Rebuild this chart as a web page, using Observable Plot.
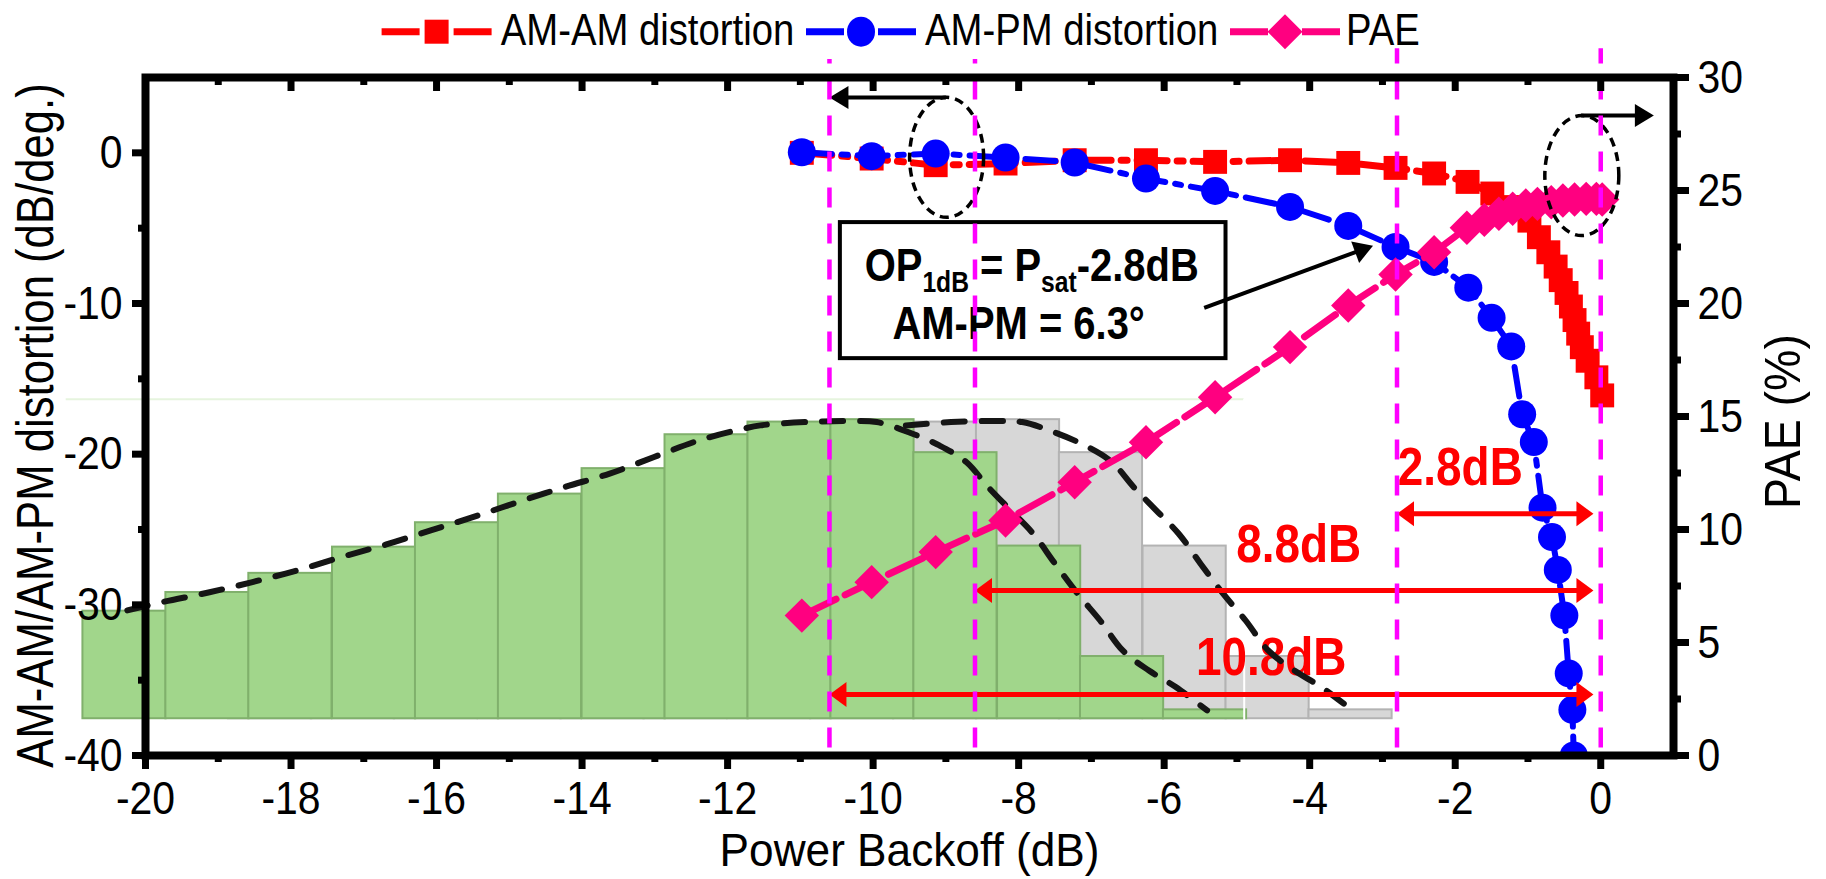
<!DOCTYPE html>
<html lang="en">
<head>
<meta charset="utf-8">
<title>AM-AM / AM-PM distortion and PAE versus power backoff</title>
<script src="https://cdn.jsdelivr.net/npm/d3@7"></script>
<script src="https://cdn.jsdelivr.net/npm/@observablehq/plot@0.6"></script>
<style>
  html, body { margin: 0; padding: 0; background: #fff; }
  #figure { position: relative; width: 1826px; height: 879px; }
  #legend { position: absolute; left: 0; top: 0; z-index: 2; }
</style>
</head>
<body>
<div id="figure"></div>
<script>
// ---------------------------------------------------------------------------
// Measured responses versus power backoff (dB)
// ---------------------------------------------------------------------------
const amamX    = [-10.98, -10.02, -9.14, -8.18, -7.23, -6.25, -5.3, -4.27, -3.47, -2.82, -2.29, -1.83, -1.49, -1.21, -0.98, -0.85, -0.72, -0.62, -0.55, -0.47, -0.41, -0.36, -0.31, -0.26, -0.18, -0.06, 0.02];
const amamDist = [0.0, -0.38, -0.82, -0.71, -0.49, -0.49, -0.6, -0.49, -0.67, -1.0, -1.37, -1.93, -2.7, -3.6, -4.5, -5.6, -6.6, -7.55, -8.45, -9.3, -10.2, -11.1, -12.0, -12.9, -13.8, -14.9, -16.1];

const ampmX    = [-10.98, -10.02, -9.14, -8.18, -7.23, -6.25, -5.3, -4.27, -3.47, -2.82, -2.29, -1.82, -1.5, -1.23, -1.08, -0.92, -0.8, -0.67, -0.59, -0.5, -0.44, -0.39, -0.37];
const ampmDist = [0.04, -0.22, -0.05, -0.31, -0.64, -1.71, -2.53, -3.59, -4.85, -6.25, -7.24, -8.95, -10.95, -12.85, -17.35, -19.2, -23.55, -25.5, -27.68, -30.7, -34.55, -36.97, -40.0];

const paeX     = [-10.98, -10.02, -9.14, -8.18, -7.23, -6.25, -5.3, -4.27, -3.47, -2.82, -2.29, -1.84, -1.6, -1.4, -1.21, -1.03, -0.87, -0.68, -0.52, -0.36, -0.2, -0.06, 0.02];
const paeValue = [6.19, 7.67, 9.0, 10.4, 12.09, 13.86, 15.85, 18.07, 19.91, 21.28, 22.27, 23.35, 23.7, 23.97, 24.19, 24.34, 24.41, 24.48, 24.56, 24.6, 24.63, 24.63, 24.6];

// ---------------------------------------------------------------------------
// Signal power distribution (histogram in left-axis units) and its envelope
// ---------------------------------------------------------------------------
const binStart = [-20.86, -19.72, -18.58, -17.43, -16.29, -15.15, -14.0, -12.86, -11.72, -10.58, -9.44, -8.29, -7.15, -6.01];
const binTop   = [-30.42, -29.18, -27.91, -26.17, -24.55, -22.65, -20.96, -18.71, -17.87, -17.71, -19.9, -26.1, -33.43, -36.97];
const binWidth = 1.143;
const binBase  = -37.56;
const secondSignalShift = 2.0;   // same distribution, 2 dB closer to saturation

const envX = [-20.25, -19.76, -19.15, -18.53, -17.92, -17.31, -16.69, -16.08, -15.47, -14.85, -14.24, -13.62, -13.01, -12.39, -11.78, -11.55, -10.93, -10.32, -9.95, -9.52, -9.09, -8.72, -8.42, -8.11, -7.8, -7.5, -7.19, -6.88, -6.57, -6.21, -5.84, -5.41];
const envY = [-30.37, -29.81, -29.2, -28.49, -27.72, -26.83, -25.99, -25.06, -24.13, -23.13, -22.18, -21.29, -20.19, -19.08, -18.31, -18.09, -17.87, -17.8, -17.87, -18.53, -19.42, -20.52, -22.18, -23.73, -25.28, -27.27, -29.26, -31.04, -33.03, -34.36, -35.46, -37.01];

// ---------------------------------------------------------------------------
// Backoff markers and annotations
// ---------------------------------------------------------------------------
const markerX    = [-10.6, -8.6, -2.8, 0];
const markerTop  = [6.2, 6.2, 6.9, 6.9];
const markerBottom = -39.5;

const spanFrom   = [-10.6, -8.6, -2.8];
const spanTo     = -0.1;
const spanY      = [-35.95, -29.05, -23.96];
const spanText   = ["10.8dB", "8.8dB", "2.8dB"];
const spanTextX  = [-4.53, -4.15, -1.93];
const spanTextY  = [-34.69, -27.17, -22.07];

const pointerX1 = [-9.0, -0.27, -5.45];
const pointerY1 = [3.68, 2.47, -10.29];
const pointerX2 = [-10.6, 0.73, -3.13];
const pointerY2 = [3.68, 2.47, -6.16];

const ringX = [-8.99, -0.26];
const ringY = [-0.30, -1.51];

const boxX = [-10.45, -5.15];
const boxY = [-13.66, -4.63];
const boxLines = ["OP1dB = Psat-2.8dB", "AM-PM = 6.3°"];
const boxLineX = [-7.82, -8.0];
const boxLineY = [-8.53, -12.35];

// Axis ticks
const xMajor = [-20, -18, -16, -14, -12, -10, -8, -6, -4, -2, 0];
const xMinor = [-19, -17, -15, -13, -11, -9, -7, -5, -3, -1];
const leftMajor = [0, -10, -20, -30, -40];
const leftMinor = [-5, -15, -25, -35];
const paeMajor = [0, 5, 10, 15, 20, 25, 30];
const paeMinor = [2.5, 7.5, 12.5, 17.5, 22.5, 27.5];

const seriesNames  = ["AM-AM distortion", "AM-PM distortion", "PAE"];
const seriesColors = ["#ff0000", "#0000ff", "#ff0080"];
const xTitle = "Power Backoff (dB)";
const leftTitle = "AM-AM/AM-PM distortion (dB/deg.)";
const rightTitle = "PAE (%)";

// ---------------------------------------------------------------------------
const FONT = '"Liberation Sans", Arial, sans-serif';
const W = 1826, H = 879;
const M = {top: 77, right: 153, bottom: 124, left: 145};
const xDomain = [-20, 1], yDomain = [-40, 5];
const plotH = H - M.top - M.bottom;
const xPx = (W - M.left - M.right) / (xDomain[1] - xDomain[0]);
const yPx = plotH / (yDomain[1] - yDomain[0]);

// PAE (0–30 %) shares the frame with the left axis (-40…5)
const paeToLeft = (p) => yDomain[0] + p * (yDomain[1] - yDomain[0]) / 30;
const leftToPae = (v) => (v - yDomain[0]) * 30 / (yDomain[1] - yDomain[0]);

const amam = amamX.map((x, i) => ({x, y: amamDist[i]}));
const ampm = ampmX.map((x, i) => ({x, y: ampmDist[i]}));
const pae  = paeX.map((x, i) => ({x, y: paeToLeft(paeValue[i])}));

const bins = binStart.map((x1, i) => ({x1, x2: x1 + binWidth, top: binTop[i]}));
const binsShifted = bins.map((d) => ({x1: d.x1 + secondSignalShift, x2: d.x2 + secondSignalShift, top: d.top}));
const envelope = envX.map((x, i) => ({x, y: envY[i]}));
const envelopeShifted = envelope
  .filter((d) => d.x >= -11.6)
  .map((d) => ({x: d.x + secondSignalShift, y: d.y}));

const markers = markerX.map((x, i) => ({x, top: markerTop[i]}));
const spans = spanFrom.map((x1, i) => ({x1, x2: spanTo, y: spanY[i]}));
const spanLabels = spanText.map((t, i) => ({t, x: spanTextX[i], y: spanTextY[i]}));
const pointers = pointerX1.map((x1, i) => {
  const d = {x1, y1: pointerY1[i], x2: pointerX2[i], y2: pointerY2[i]};
  d.angle = Math.atan2(-(d.y2 - d.y1) * yPx, (d.x2 - d.x1) * xPx) * 180 / Math.PI;
  return d;
});
const rings = ringX.map((x, i) => ({x, y: ringY[i]}));
const boxText = boxLines.map((t, i) => ({t, x: boxLineX[i], y: boxLineY[i]}));

// Filled triangular arrow head, tip at the origin, pointing along angle (degrees, screen space)
function arrowHead(angleDeg, len, half) {
  const a = angleDeg * Math.PI / 180, c = Math.cos(a), s = Math.sin(a);
  const p = [[0, 0], [-len, -half], [-len, half]].map(([u, v]) => [u * c - v * s, u * s + v * c]);
  return {draw(ctx) {
    ctx.moveTo(p[0][0], p[0][1]);
    ctx.lineTo(p[1][0], p[1][1]);
    ctx.lineTo(p[2][0], p[2][1]);
    ctx.closePath();
  }};
}

// Ellipse outline used to circle a group of points
function ellipse(rx, ry) {
  const k = 0.5522847498;
  return {draw(ctx) {
    ctx.moveTo(rx, 0);
    ctx.bezierCurveTo(rx, ry * k, rx * k, ry, 0, ry);
    ctx.bezierCurveTo(-rx * k, ry, -rx, ry * k, -rx, 0);
    ctx.bezierCurveTo(-rx, -ry * k, -rx * k, -ry, 0, -ry);
    ctx.bezierCurveTo(rx * k, -ry, rx, -ry * k, rx, 0);
    ctx.closePath();
  }};
}

const RED = "#ff0000";

const chart = Plot.plot({
  width: W,
  height: H,
  marginTop: M.top,
  marginRight: M.right,
  marginBottom: M.bottom,
  marginLeft: M.left,
  x: {domain: xDomain},
  y: {domain: yDomain},
  style: {fontFamily: FONT, fontSize: "46px", color: "#000", background: "#fff"},
  marks: [
    // power distributions
    Plot.rect(binsShifted, {x1: "x1", x2: "x2", y1: binBase, y2: "top", fill: "#d7d7d7", stroke: "#b3b3b3", strokeWidth: 2}),
    Plot.rect(bins, {x1: "x1", x2: "x2", y1: binBase, y2: "top", fill: "#a1d68b", stroke: "#80b06c", strokeWidth: 2}),
    Plot.ruleY([-16.36], {x1: -21.09, x2: -4.9, stroke: "#e6f4de", strokeWidth: 2}),
    Plot.ruleX([-4.9], {y1: binBase - 0.1, y2: -16.36, stroke: "#ffffff", strokeWidth: 2}),

    // backoff span labels
    Plot.text(spanLabels, {x: "x", y: "y", text: "t", fill: RED, fontWeight: "bold", fontSize: 54, lineAnchor: "bottom"}),

    // envelopes
    Plot.line(envelopeShifted, {x: "x", y: "y", curve: "catmull-rom", stroke: "#151515", strokeWidth: 6, strokeDasharray: "21,17", strokeLinecap: "round"}),
    Plot.line(envelope, {x: "x", y: "y", curve: "catmull-rom", stroke: "#151515", strokeWidth: 6, strokeDasharray: "21,17", strokeLinecap: "round"}),

    // annotation box
    Plot.rect([0], {x1: boxX[0], x2: boxX[1], y1: boxY[0], y2: boxY[1], fill: "#fff", stroke: "#000", strokeWidth: 4}),
    Plot.text(boxText, {x: "x", y: "y", text: "t", fontWeight: "bold", fontSize: 47, lineAnchor: "bottom", fill: "#000"}),

    // AM-AM
    Plot.line(amam, {x: "x", y: "y", stroke: seriesColors[0], strokeWidth: 7, strokeDasharray: "30,10,6,10"}),
    Plot.dot(amam, {x: "x", y: "y", symbol: "square", r: 13.5, fill: seriesColors[0], stroke: "none"}),
    // AM-PM
    Plot.line(ampm, {x: "x", y: "y", stroke: seriesColors[1], strokeWidth: 6, strokeDasharray: "30,10,6,10", clip: true}),
    Plot.dot(ampm, {x: "x", y: "y", symbol: "circle", r: 14, fill: seriesColors[1], stroke: "none", clip: true}),
    // PAE
    Plot.line(pae, {x: "x", y: "y", stroke: seriesColors[2], strokeWidth: 7, strokeDasharray: "38,10"}),
    Plot.dot(pae, {x: "x", y: "y", symbol: "diamond2", r: 15.5, fill: seriesColors[2], stroke: "none"}),

    // double-headed backoff spans
    Plot.arrow(spans, {x1: "x1", x2: "x2", y1: "y", y2: "y", headLength: 0, insetStart: 10, insetEnd: 10, stroke: RED, strokeWidth: 5, strokeLinecap: "butt"}),
    Plot.dot(spans, {x: "x1", y: "y", symbol: arrowHead(180, 17, 12.5), fill: RED, stroke: "none"}),
    Plot.dot(spans, {x: "x2", y: "y", symbol: arrowHead(0, 17, 12.5), fill: RED, stroke: "none"}),

    // black pointers and rings
    Plot.arrow(pointers, {x1: "x1", y1: "y1", x2: "x2", y2: "y2", headLength: 0, insetEnd: 12, stroke: "#000", strokeWidth: 4, strokeLinecap: "butt"}),
    ...pointers.map((d) => Plot.dot([d], {x: "x2", y: "y2", symbol: arrowHead(d.angle, 19, 11.5), fill: "#000", stroke: "none"})),
    Plot.dot(rings, {x: "x", y: "y", symbol: ellipse(37, 60), fill: "none", stroke: "#000", strokeWidth: 3.5, strokeDasharray: "9,6"}),

    // backoff markers
    Plot.ruleX(markers, {x: "x", y1: markerBottom, y2: "top", stroke: "#ff00ff", strokeWidth: 4.5, strokeDasharray: "20,16"}),

    // axes
    Plot.tickX(xMajor, {x: (d) => d, insetBottom: plotH - 14, strokeWidth: 7}),
    Plot.tickX(xMinor, {x: (d) => d, insetBottom: plotH - 8, strokeWidth: 7}),
    Plot.axisX({anchor: "bottom", ticks: xMinor, tickSize: 7, strokeWidth: 7, tickFormat: () => "", label: null}),
    Plot.axisX({anchor: "bottom", ticks: xMajor, tickSize: 14, tickPadding: 11, strokeWidth: 7, tickFormat: (d) => String(d), label: null, fontSize: 47}),
    Plot.axisY({anchor: "left", ticks: leftMinor, tickSize: 7, strokeWidth: 7, tickFormat: () => "", label: null}),
    Plot.axisY({anchor: "left", ticks: leftMajor, tickSize: 13, tickPadding: 10, strokeWidth: 7, tickFormat: (d) => String(d), label: null, fontSize: 47}),
    Plot.axisY({anchor: "right", ticks: paeMinor.map(paeToLeft), tickSize: 7, strokeWidth: 7, tickFormat: () => "", label: null}),
    Plot.axisY({anchor: "right", ticks: paeMajor.map(paeToLeft), tickSize: 15, tickPadding: 9, strokeWidth: 7, tickFormat: (d) => String(Math.round(leftToPae(d))), label: null, fontSize: 47}),
    Plot.frame({stroke: "#000", strokeWidth: 8}),

    // axis titles
    Plot.text([xTitle], {text: (d) => d, frameAnchor: "bottom", textAnchor: "middle", lineAnchor: "bottom", dy: 110, fontSize: 47}),
    Plot.text([leftTitle], {text: (d) => d, frameAnchor: "left", textAnchor: "middle", rotate: -90, lineAnchor: "middle", dx: -109, dy: 9, fontSize: 52}),
    Plot.text([rightTitle], {text: (d) => d, frameAnchor: "right", textAnchor: "middle", rotate: -90, lineAnchor: "middle", dx: 110, dy: 5, fontSize: 50})
  ]
});

// Subscripts in the box annotation
d3.select(chart).selectAll("text").each(function () {
  if (this.textContent !== boxLines[0]) return;
  const t = d3.select(this).text(null);
  t.append("tspan").text("OP");
  t.append("tspan").attr("font-size", 29).attr("dy", 11).text("1dB");
  t.append("tspan").attr("dy", -11).text(" = P");
  t.append("tspan").attr("font-size", 29).attr("dy", 11).text("sat");
  t.append("tspan").attr("dy", -11).text("-2.8dB");
});

// The figure's lettering is a narrow sans: compress each label horizontally about its anchor
function narrow(el, k) {
  const x = el.getAttribute("x");
  if (x != null && !/em$/.test(x) && +x) el.setAttribute("x", +x / k);
  const tr = el.getAttribute("transform") || "";
  el.setAttribute("transform", `${tr} scale(${k},1)`.trim());
}
const narrowBy = new Map([[xTitle, 0.94], [leftTitle, 0.84], [rightTitle, 0.93]]);
d3.select(chart).selectAll("text").each(function () {
  const txt = this.textContent;
  if (!txt) return;
  const bold = this.closest("[font-weight]")?.getAttribute("font-weight") === "bold" ||
               this.getAttribute("font-weight") === "bold";
  narrow(this, narrowBy.get(txt) ?? (bold ? 0.85 : 0.87));
});

document.getElementById("figure").appendChild(chart);

// Legend across the top of the figure
const legendSymbols = ["square", "circle", "diamond"];
const legendSampleX = [381.6, 806, 1230];
const legendTextX = [500.8, 925, 1346];
const legend = d3.select("#figure").append("svg")
  .attr("id", "legend").attr("width", W).attr("height", 60)
  .style("font-family", FONT).style("font-size", "44px");
seriesNames.forEach((name, i) => {
  const g = legend.append("g").attr("transform", `translate(${legendSampleX[i]},31.7)`);
  const c = seriesColors[i];
  g.append("line").attr("x1", 0).attr("x2", 38).attr("stroke", c).attr("stroke-width", 7);
  g.append("line").attr("x1", 72).attr("x2", 110).attr("stroke", c).attr("stroke-width", 7);
  if (legendSymbols[i] === "square") g.append("rect").attr("x", 43).attr("y", -12).attr("width", 24).attr("height", 24).attr("fill", c);
  else if (legendSymbols[i] === "circle") g.append("ellipse").attr("cx", 55).attr("rx", 14).attr("ry", 15).attr("fill", c);
  else g.append("path").attr("d", "M55,-17.5L72.5,0L55,17.5L37.5,0Z").attr("fill", c);
  legend.append("text")
    .attr("transform", `translate(${legendTextX[i]},45) scale(0.87,1)`)
    .attr("fill", "#000")
    .text(name);
});
</script>
</body>
</html>
